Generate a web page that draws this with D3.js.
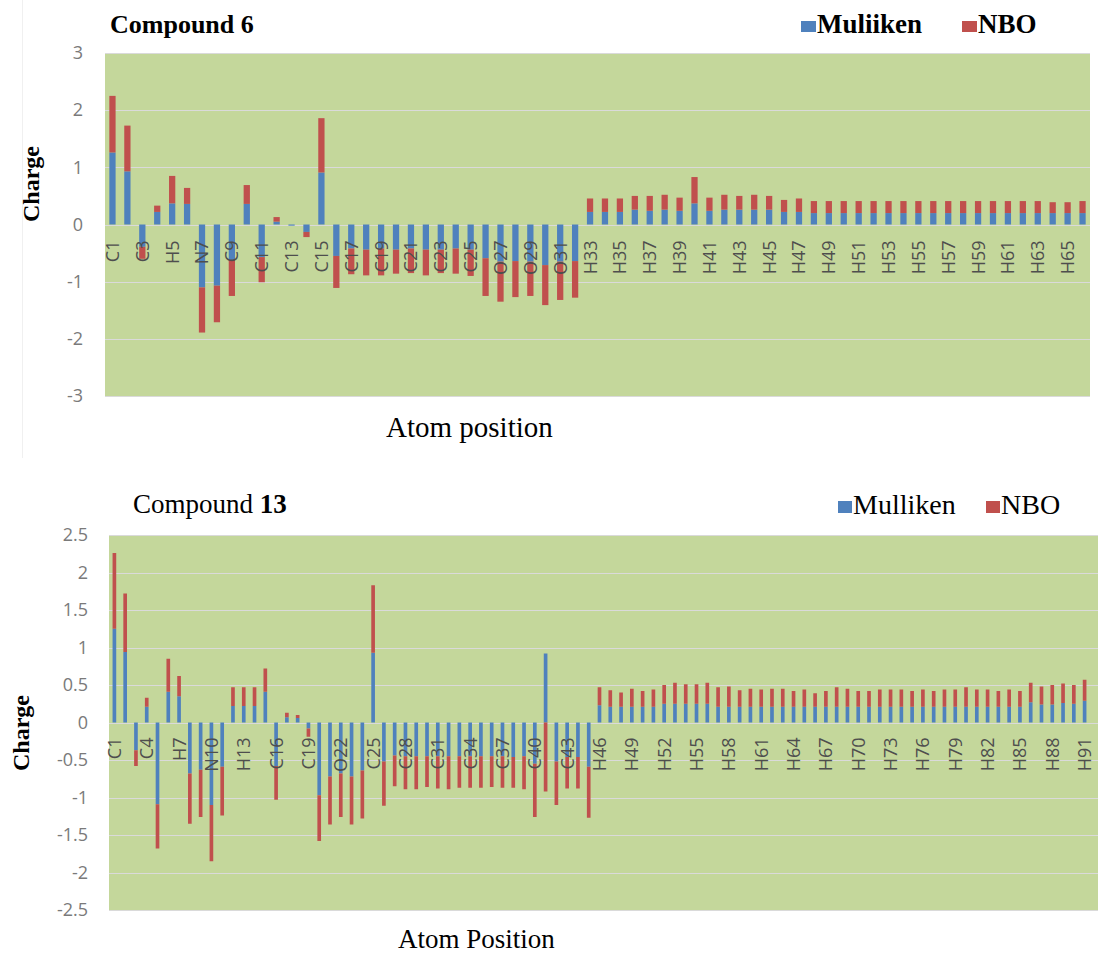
<!DOCTYPE html>
<html>
<head>
<meta charset="utf-8">
<script src="https://cdn.jsdelivr.net/npm/d3@7"></script>
<style>
  body { margin: 0; background: #fff; }
  svg { display: block; }
</style>
</head>
<body>
<svg id="chart" width="1098" height="955"></svg>
<script>
// ---------------------------------------------------------------------------
// Atomic charges (Mulliken vs NBO), stacked per atom, for compounds 6 and 13.
// Values are the two stacked segments.
// ---------------------------------------------------------------------------

// Compound 6
const atoms6 = [
  'C1','C2','C3','H4','H5','H6','N7','N8','C9','C10','C11','C12','C13','C14','C15','C16',
  'C17','C18','C19','C20','C21','C22','C23','C24','C25','O26','O27','O28','O29','O30','O31','O32',
  'H33','H34','H35','H36','H37','H38','H39','H40','H41','H42','H43','H44','H45','H46','H47','H48',
  'H49','H50','H51','H52','H53','H54','H55','H56','H57','H58','H59','H60','H61','H62','H63','H64',
  'H65','H66'
];
const mulliken6 = [
  1.26, 0.93, -0.39, 0.22, 0.37, 0.36, -1.10, -1.07, -0.62, 0.36, -0.57, 0.05, -0.02, -0.13, 0.91, -0.55,
  -0.42, -0.44, -0.42, -0.44, -0.42, -0.44, -0.44, -0.42, -0.44, -0.59, -0.65, -0.64, -0.65, -0.71, -0.65, -0.64,
  0.22, 0.22, 0.22, 0.26, 0.24, 0.26, 0.24, 0.37, 0.24, 0.26, 0.26, 0.26, 0.26, 0.22, 0.22, 0.20,
  0.20, 0.20, 0.20, 0.20, 0.20, 0.20, 0.20, 0.20, 0.20, 0.20, 0.20, 0.20, 0.20, 0.20, 0.20, 0.20,
  0.20, 0.20
];
const nbo6 = [
  0.99, 0.80, -0.21, 0.11, 0.48, 0.28, -0.79, -0.64, -0.63, 0.33, -0.44, 0.08, 0.00, -0.09, 0.95, -0.56,
  -0.45, -0.45, -0.47, -0.42, -0.43, -0.45, -0.41, -0.44, -0.46, -0.66, -0.70, -0.63, -0.60, -0.70, -0.67, -0.64,
  0.235, 0.235, 0.235, 0.24, 0.26, 0.26, 0.23, 0.46, 0.23, 0.26, 0.24, 0.26, 0.24, 0.21, 0.235, 0.21,
  0.21, 0.21, 0.21, 0.21, 0.21, 0.21, 0.21, 0.21, 0.21, 0.21, 0.21, 0.21, 0.21, 0.21, 0.21, 0.19,
  0.19, 0.21
];
const yTicks6 = [3, 2, 1, 0, -1, -2, -3];

// Compound 13
const atoms13 = [
  'C1','C2','C3','C4','N5','C6','H7','O8','O9','N10','O11','H12','H13','H14','C15','C16',
  'C17','C18','C19','N20','O21','O22','O23','O24','C25','C26','C27','C28','C29','C30','C31','C32',
  'C33','C34','C35','C36','C37','C38','C39','C40','C41','C42','C43','C44','C45','H46','H47','H48',
  'H49','H50','H51','H52','H53','H54','H55','H56','H57','H58','H59','H60','H61','H62','H63','H64',
  'H65','H66','H67','H68','H69','H70','H71','H72','H73','H74','H75','H76','H77','H78','H79','H80',
  'H81','H82','H83','H84','H85','H86','H87','H88','H89','H90','H91'
];
const mulliken13 = [
  1.25, 0.94, -0.37, 0.21, -1.09, 0.41, 0.35, -0.68, -0.63, -1.10, -0.59, 0.22, 0.22, 0.22, 0.41, -0.58,
  0.07, 0.06, -0.08, -0.97, -0.72, -0.68, -0.72, -0.64, 0.93, -0.52, -0.44, -0.45, -0.45, -0.45, -0.45, -0.45,
  -0.45, -0.45, -0.45, -0.45, -0.45, -0.46, -0.45, -0.55, 0.92, -0.52, -0.46, -0.46, -0.59, 0.23, 0.21, 0.21,
  0.21, 0.21, 0.21, 0.25, 0.25, 0.25, 0.25, 0.25, 0.21, 0.21, 0.21, 0.21, 0.21, 0.21, 0.21, 0.21,
  0.21, 0.21, 0.21, 0.21, 0.21, 0.21, 0.21, 0.21, 0.21, 0.21, 0.21, 0.21, 0.21, 0.21, 0.21, 0.21,
  0.21, 0.21, 0.21, 0.21, 0.21, 0.27, 0.24, 0.24, 0.26, 0.25, 0.29
];
const nbo13 = [
  1.01, 0.78, -0.21, 0.12, -0.59, 0.44, 0.27, -0.67, -0.63, -0.75, -0.65, 0.25, 0.25, 0.25, 0.31, -0.45,
  0.06, 0.04, -0.11, -0.61, -0.64, -0.58, -0.64, -0.64, 0.90, -0.59, -0.41, -0.44, -0.44, -0.41, -0.43, -0.44,
  -0.42, -0.42, -0.42, -0.41, -0.42, -0.41, -0.44, -0.71, -0.92, -0.58, -0.42, -0.42, -0.68, 0.24, 0.22, 0.19,
  0.24, 0.21, 0.23, 0.25, 0.28, 0.26, 0.26, 0.28, 0.26, 0.27, 0.22, 0.24, 0.23, 0.24, 0.24, 0.21,
  0.23, 0.18, 0.21, 0.26, 0.24, 0.21, 0.21, 0.23, 0.23, 0.23, 0.21, 0.23, 0.21, 0.23, 0.23, 0.26,
  0.23, 0.23, 0.21, 0.23, 0.21, 0.26, 0.24, 0.26, 0.26, 0.25, 0.28
];
const yTicks13 = [2.5, 2, 1.5, 1, 0.5, 0, -0.5, -1, -1.5, -2, -2.5];

const seriesKeys = ['mulliken', 'nbo'];
const COLORS = { mulliken: '#4F81BD', nbo: '#C0504D' };
const PLOT_BG = '#C4D79B';
const GRID = '#DADADA';
const SERIF = '"Liberation Serif", "DejaVu Serif", serif';
const SANS = '"Open Sans", "Liberation Sans", sans-serif';

const svg = d3.select('#chart');

// faint chart-area edge on the left of the upper chart
svg.append('line')
  .attr('x1', 22.5).attr('x2', 22.5)
  .attr('y1', 0).attr('y2', 458)
  .attr('stroke', '#F0F0F0');

function drawPanel(cfg) {
  const rows = cfg.atoms.map((a, i) => ({ atom: a, mulliken: cfg.mulliken[i], nbo: cfg.nbo[i] }));

  // bands may stop short of the green area (lower chart runs off the page edge)
  const x = d3.scaleBand()
    .domain(cfg.atoms)
    .range([cfg.left, cfg.bandRight])
    .paddingInner(cfg.pad)
    .paddingOuter(cfg.pad / 2);

  const y = d3.scaleLinear()
    .domain(d3.extent(cfg.yTicks))
    .range([cfg.bottom, cfg.top]);

  const g = svg.append('g');

  // plot area
  g.append('rect')
    .attr('x', cfg.left).attr('y', cfg.top)
    .attr('width', cfg.right - cfg.left)
    .attr('height', cfg.bottom - cfg.top)
    .attr('fill', PLOT_BG);

  // gridlines
  g.append('g')
    .selectAll('line')
    .data(cfg.yTicks)
    .join('line')
    .attr('x1', cfg.left).attr('x2', cfg.right)
    .attr('y1', d => Math.round(y(d)) + 0.5)
    .attr('y2', d => Math.round(y(d)) + 0.5)
    .attr('stroke', GRID)
    .attr('stroke-width', 1.2);

  // stacked bars (positive and negative stacks kept apart, like the spreadsheet)
  const stacked = d3.stack()
    .keys(seriesKeys)
    .offset(d3.stackOffsetDiverging)(rows);

  g.append('g')
    .selectAll('g')
    .data(stacked)
    .join('g')
    .attr('fill', s => COLORS[s.key])
    .selectAll('rect')
    .data(s => s)
    .join('rect')
    .attr('x', d => x(d.data.atom))
    .attr('width', x.bandwidth())
    .attr('y', d => y(Math.max(d[0], d[1])))
    .attr('height', d => Math.abs(y(d[0]) - y(d[1])));

  // y axis labels
  const yAxis = g.append('g')
    .attr('transform', `translate(${cfg.left},0)`)
    .call(d3.axisLeft(y)
      .tickValues(cfg.yTicks)
      .tickSize(0)
      .tickPadding(cfg.yPad)
      .tickFormat(d => String(d)));
  yAxis.select('.domain').remove();
  yAxis.selectAll('text')
    .attr('font-family', SANS)
    .attr('font-size', cfg.tickSize)
    .attr('fill', '#7A7A7A');

  // category labels, every nth, rotated, hanging under the zero line
  const shown = cfg.atoms.filter((_, i) => i % cfg.every === 0);
  const xAxis = g.append('g')
    .attr('transform', `translate(0,${y(0)})`)
    .call(d3.axisBottom(x).tickValues(shown).tickSize(0));
  xAxis.select('.domain').remove();
  xAxis.selectAll('text')
    .attr('font-family', SANS)
    .attr('font-size', cfg.tickSize)
    .attr('fill', '#4E4E4E')
    .attr('transform', 'rotate(-90)')
    .attr('text-anchor', 'end')
    .attr('x', -cfg.labelGap)
    .attr('y', 0)
    .attr('dy', '0.36em');

  // y title
  svg.append('text')
    .attr('transform', `translate(${cfg.yTitleX},${cfg.yTitleY}) rotate(-90)`)
    .attr('text-anchor', 'middle')
    .attr('dy', '0.3em')
    .attr('font-family', SERIF)
    .attr('font-weight', 'bold')
    .attr('font-size', 24)
    .attr('fill', '#000')
    .text('Charge');

  // x title
  svg.append('text')
    .attr('x', cfg.xTitleX).attr('y', cfg.xTitleY)
    .attr('font-family', SERIF)
    .attr('font-size', cfg.xTitleSize)
    .attr('fill', '#000')
    .text(cfg.xTitle);

  // title
  const t = svg.append('text')
    .attr('x', cfg.titleX).attr('y', cfg.titleY)
    .attr('font-family', SERIF)
    .attr('font-size', cfg.titleSize)
    .attr('fill', '#000');
  cfg.titleParts.forEach(p => {
    t.append('tspan')
      .attr('font-weight', p.bold ? 'bold' : 'normal')
      .text(p.text);
  });

  // legend
  const leg = svg.append('g')
    .selectAll('g')
    .data(cfg.legend)
    .join('g');
  leg.append('rect')
    .attr('x', d => d.x).attr('y', cfg.legendY - cfg.keyH - 1)
    .attr('width', cfg.keyW).attr('height', cfg.keyH)
    .attr('fill', d => COLORS[d.key]);
  leg.append('text')
    .attr('x', d => d.x + cfg.keyW + 1).attr('y', cfg.legendY)
    .attr('font-family', SERIF)
    .attr('font-weight', cfg.legendBold ? 'bold' : 'normal')
    .attr('font-size', cfg.legendSize)
    .attr('fill', '#000')
    .text(d => d.label);
}

drawPanel({
  atoms: atoms6, mulliken: mulliken6, nbo: nbo6, yTicks: yTicks6,
  left: 105, right: 1090, bandRight: 1090, top: 53, bottom: 396,
  pad: 0.58, every: 2, tickSize: 18, yPad: 22, labelGap: 16,
  yTitleX: 32, yTitleY: 184,
  xTitle: 'Atom position', xTitleX: 386, xTitleY: 437, xTitleSize: 29,
  titleParts: [{ text: 'Compound 6', bold: true }], titleX: 110, titleY: 33, titleSize: 26,
  legend: [
    { key: 'mulliken', label: 'Muliiken', x: 801 },
    { key: 'nbo', label: 'NBO', x: 962 }
  ],
  legendY: 33, legendSize: 27, legendBold: true, keyW: 15, keyH: 11
});

drawPanel({
  atoms: atoms13, mulliken: mulliken13, nbo: nbo13, yTicks: yTicks13,
  left: 109, right: 1098, bandRight: 1090, top: 535, bottom: 910,
  pad: 0.66, every: 3, tickSize: 18, yPad: 21, labelGap: 15,
  yTitleX: 22, yTitleY: 733,
  xTitle: 'Atom Position', xTitleX: 398, xTitleY: 948, xTitleSize: 27,
  titleParts: [{ text: 'Compound ', bold: false }, { text: '13', bold: true }], titleX: 133, titleY: 513, titleSize: 27,
  legend: [
    { key: 'mulliken', label: 'Mulliken', x: 838 },
    { key: 'nbo', label: 'NBO', x: 986 }
  ],
  legendY: 514, legendSize: 28, legendBold: false, keyW: 14, keyH: 12
});
</script>
</body>
</html>
